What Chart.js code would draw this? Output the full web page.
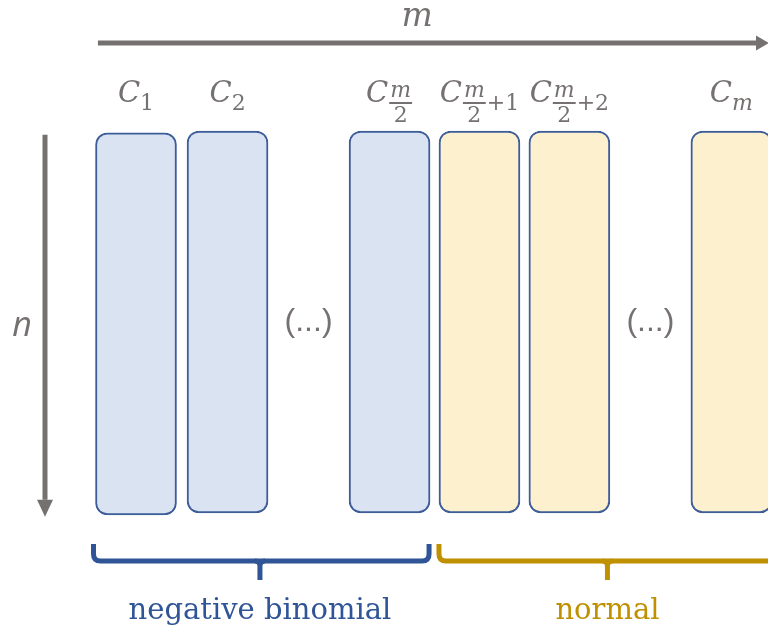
<!DOCTYPE html>
<html>
<head>
<meta charset="utf-8">
<script src="https://cdn.jsdelivr.net/npm/chart.js@4/dist/chart.umd.min.js"></script>
<style>
  html, body { margin: 0; padding: 0; background: #fff; }
  #wrap { width: 768px; height: 634px; position: relative; }
</style>
</head>
<body>
<div id="wrap"><canvas id="chart" width="768" height="634"></canvas></div>
<script>
// column layout in "column width" units (1 unit = one column), rows n normalised 0..1
const columnPos = [0, 1.13, 3.13, 4.24, 5.35, 7.35];
const columnTop = [0.005, 0, 0, 0, 0, 0];
const columnBottom = [1.005, 1, 1, 1, 1, 1];
const columnDist = ["nb", "nb", "nb", "normal", "normal", "normal"];
const columnSub = ["1", "2", "m/2", "m/2+1", "m/2+2", "m"];
const gapPos = [2.13, 6.35];
const gapLabel = "(...)";
const groupLabel = ["negative binomial", "normal"];
const groupFrom = [0, 3];
const groupTo = [2, 5];
const groupCentre = [1.53, 5.82];
const groupColor = ["#2f5597", "#bf9000"];

const FILL = { nb: "#dae3f2", normal: "#fdf0cf" };
const EDGE = "#3d5d99";
const GREY = "#767171";

function arrow(ctx, x0, y0, x1, y1, w, head, headW) {
  const ang = Math.atan2(y1 - y0, x1 - x0);
  const bx = x1 - Math.cos(ang) * head, by = y1 - Math.sin(ang) * head;
  ctx.save();
  ctx.strokeStyle = GREY; ctx.fillStyle = GREY; ctx.lineWidth = w;
  ctx.beginPath(); ctx.moveTo(x0, y0); ctx.lineTo(bx, by); ctx.stroke();
  ctx.beginPath();
  ctx.moveTo(x1, y1);
  ctx.lineTo(bx - Math.sin(ang) * headW / 2, by + Math.cos(ang) * headW / 2);
  ctx.lineTo(bx + Math.sin(ang) * headW / 2, by - Math.cos(ang) * headW / 2);
  ctx.closePath(); ctx.fill();
  ctx.restore();
}

// C with subscript, "m/2" gives a stacked fraction
function colLabel(ctx, cx, sub) {
  const fC = "italic 29px 'DejaVu Serif'";
  const fI = "italic 22px 'DejaVu Serif'";
  const fU = "22px 'DejaVu Serif'";
  ctx.save();
  ctx.fillStyle = GREY; ctx.strokeStyle = GREY; ctx.textBaseline = "alphabetic"; ctx.textAlign = "left";
  ctx.font = fC; const wC = ctx.measureText("C").width;
  let parts = [];
  if (sub.startsWith("m/2")) {
    ctx.font = fI; const wm = ctx.measureText("m").width;
    ctx.font = fU; const w2 = ctx.measureText("2").width;
    const wf = Math.max(wm, w2) + 4;
    parts.push({ frac: true, w: wf, wm, w2 });
    const rest = sub.slice(3);
    if (rest) { ctx.font = fU; parts.push({ t: rest, f: fU, w: ctx.measureText(rest).width }); }
  } else {
    const f = /[a-z]/.test(sub) ? fI : fU;
    ctx.font = f; parts.push({ t: sub, f, w: ctx.measureText(sub).width });
  }
  const total = wC + parts.reduce((s, p) => s + p.w, 0);
  let x = cx - total / 2;
  ctx.font = fC; ctx.fillText("C", x, 102); x += wC;
  parts.forEach((p) => {
    if (p.frac) {
      ctx.font = fI; ctx.fillText("m", x + (p.w - p.wm) / 2, 97);
      ctx.lineWidth = 2;
      ctx.beginPath(); ctx.moveTo(x + 1, 103); ctx.lineTo(x + p.w - 1, 103); ctx.stroke();
      ctx.font = fU; ctx.fillText("2", x + (p.w - p.w2) / 2, 122);
    } else {
      ctx.font = p.f; ctx.fillText(p.t, x, 110);
    }
    x += p.w;
  });
  ctx.restore();
}

function brace(ctx, x0, x1, xc, color) {
  const top = 544, mid = 561, bot = 580, r = 7;
  ctx.save();
  ctx.strokeStyle = color; ctx.lineWidth = 5; ctx.lineCap = "butt";
  ctx.beginPath();
  ctx.moveTo(x0, top); ctx.lineTo(x0, mid - r);
  ctx.quadraticCurveTo(x0, mid, x0 + r, mid);
  ctx.lineTo(x1 - r, mid);
  ctx.quadraticCurveTo(x1, mid, x1, mid - r);
  ctx.lineTo(x1, top);
  ctx.stroke();
  ctx.beginPath();
  ctx.moveTo(xc - 5, mid); ctx.quadraticCurveTo(xc, mid, xc, mid + 5); ctx.lineTo(xc, bot);
  ctx.moveTo(xc + 5, mid); ctx.quadraticCurveTo(xc, mid, xc, mid + 5);
  ctx.stroke();
  ctx.restore();
}

const decorations = {
  id: "decorations",
  afterDatasetsDraw(chart) {
    const { ctx, scales: { x, y } } = chart;
    const half = 0.5;
    // axes arrows
    arrow(ctx, x.getPixelForValue(-0.47), 43, 769, 43, 5, 13, 15);
    arrow(ctx, 45, y.getPixelForValue(0.01), 45, y.getPixelForValue(1.01), 5, 17, 16);
    ctx.save();
    ctx.fillStyle = GREY; ctx.textAlign = "center"; ctx.textBaseline = "alphabetic";
    ctx.font = "italic 33px 'DejaVu Serif'";
    ctx.fillText("m", x.getPixelForValue(3.47), 26);
    ctx.font = "italic 34px 'Open Sans'";
    ctx.fillText("n", 22, 336);
    ctx.font = "32px 'Liberation Sans'";
    ctx.textBaseline = "middle";
    gapPos.forEach((g) => ctx.fillText(gapLabel, x.getPixelForValue(g), y.getPixelForValue(0.5)));
    ctx.restore();
    columnPos.forEach((p, i) => colLabel(ctx, x.getPixelForValue(p), columnSub[i]));
    // braces + distribution names
    groupLabel.forEach((lab, g) => {
      const x0 = x.getPixelForValue(columnPos[groupFrom[g]] - half) - 2 + g * 2;
      const x1 = x.getPixelForValue(columnPos[groupTo[g]] + half) - 1;
      const xr = g === 1 ? x1 + 20 : x1;
      const xc = x.getPixelForValue(groupCentre[g]);
      brace(ctx, x0, xr, xc, groupColor[g]);
      ctx.save();
      ctx.fillStyle = groupColor[g]; ctx.textAlign = "center"; ctx.textBaseline = "alphabetic";
      ctx.font = "29px 'DejaVu Serif'";
      ctx.fillText(lab, xc, 619);
      ctx.restore();
    });
  },
};

new Chart(document.getElementById("chart"), {
  type: "bar",
  data: {
    datasets: [{
      data: columnPos.map((p, i) => ({ x: p, y: [columnTop[i], columnBottom[i]] })),
      backgroundColor: columnDist.map((d) => FILL[d]),
      borderColor: EDGE,
      borderWidth: 2,
      borderRadius: 12,
      borderSkipped: false,
      barThickness: 81,
      clip: false,
    }],
  },
  options: {
    responsive: false,
    animation: false,
    layout: { padding: 0 },
    plugins: { legend: { display: false }, tooltip: { enabled: false } },
    scales: {
      x: { type: "linear", offset: false, min: -1.679, max: 7.802, display: false },
      y: { min: -0.343, max: 1.317, reverse: true, display: false },
    },
  },
  plugins: [decorations],
});
</script>
</body>
</html>
